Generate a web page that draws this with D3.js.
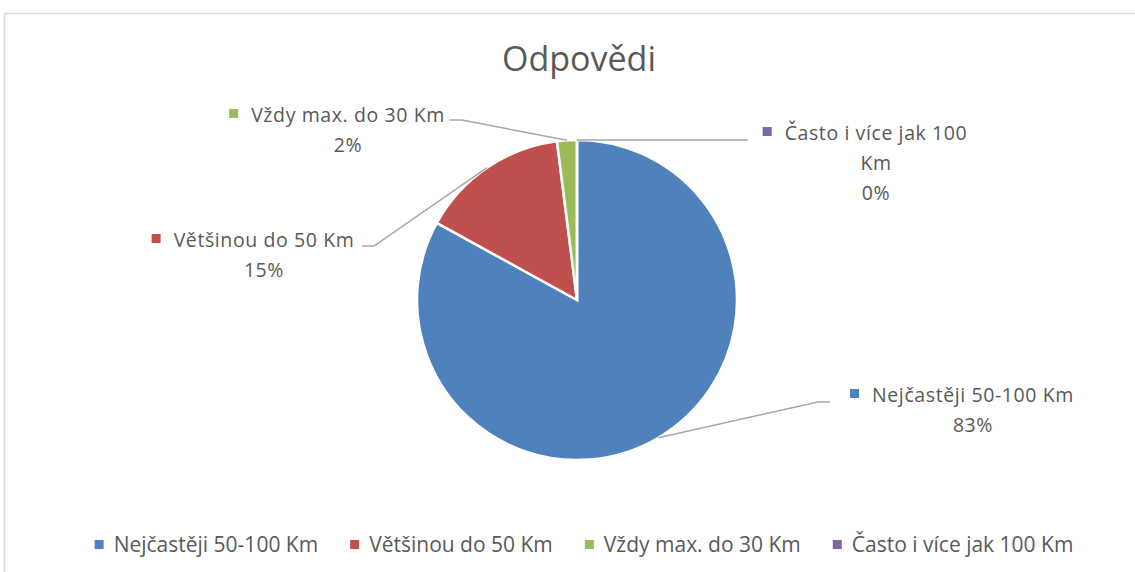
<!DOCTYPE html>
<html>
<head>
<meta charset="utf-8">
<script src="https://cdn.jsdelivr.net/npm/d3@7"></script>
<style>
  body { margin: 0; background: #fff; }
  text { font-family: "Open Sans", "Noto Sans", sans-serif; fill: #595959; }
</style>
</head>
<body>
<div id="chart"></div>
<script>
var categories = ["Nejčastěji 50-100 Km", "Většinou do 50 Km", "Vždy max. do 30 Km", "Často i více jak 100 Km"];
var values = [83, 15, 2, 0];
var colors = ["#4f81bd", "#c0504d", "#9bbb59", "#8064a2"];
var labelLines = [["Nejčastěji 50-100 Km"], ["Většinou do 50 Km"], ["Vždy max. do 30 Km"], ["Často i více jak 100", "Km"]];

var width = 1135, height = 572;
var cx = 577, cy = 300, radius = 160;

// where each data label sits and where its leader line ends
var labelPos = [
  {x: 973, y: 402, lx: 830, ly: 402, side: 1},
  {x: 264, y: 247, lx: 362, ly: 246, side: -1},
  {x: 348, y: 122, lx: 450, ly: 120, side: -1},
  {x: 876, y: 140, lx: 748, ly: 140, side: 1}
];

var svg = d3.select("#chart").append("svg")
  .attr("width", width)
  .attr("height", height);

// chart border
svg.append("rect")
  .attr("x", 4.5).attr("y", 13.5)
  .attr("width", width + 10).attr("height", height)
  .attr("fill", "none")
  .attr("stroke", "#d9d9d9")
  .attr("stroke-width", 1.5);

svg.append("text")
  .attr("x", 579).attr("y", 71)
  .attr("text-anchor", "middle")
  .style("font-size", "34px")
  .text("Odpovědi");

var total = d3.sum(values);
var data = categories.map(function(c, i) {
  return {name: c, value: values[i], color: colors[i], lines: labelLines[i], pos: labelPos[i]};
});

var pie = d3.pie().sort(null).value(function(d) { return d.value; });
var arc = d3.arc().innerRadius(0).outerRadius(radius);
var arcs = pie(data);

var g = svg.append("g").attr("transform", "translate(" + cx + "," + cy + ")");

g.selectAll(".slice")
  .data(arcs)
  .enter().append("path")
  .attr("class", "slice")
  .attr("d", arc)
  .attr("fill", function(d) { return d.data.color; })
  .attr("stroke", "#fff")
  .attr("stroke-width", 2.5);

// leader lines
svg.selectAll(".leader")
  .data(arcs)
  .enter().append("polyline")
  .attr("class", "leader")
  .attr("fill", "none")
  .attr("stroke", "#a6a6a6")
  .attr("stroke-width", 1.5)
  .attr("points", function(d) {
    var a = (d.startAngle + d.endAngle) / 2;
    var px = cx + radius * Math.sin(a), py = cy - radius * Math.cos(a);
    var p = d.data.pos;
    var ex = p.lx - p.side * 12;
    return [[p.lx, p.ly], [ex, p.ly], [px, py]].map(function(q) { return q.join(","); }).join(" ");
  });

// data labels
var labels = svg.selectAll(".lbl")
  .data(data)
  .enter().append("g")
  .attr("class", "lbl");

labels.each(function(d) {
  var el = d3.select(this);
  var lines = d.lines.concat([Math.round(d.value / total * 100) + "%"]);
  lines.forEach(function(t, i) {
    var txt = el.append("text")
      .attr("x", d.pos.x)
      .attr("y", d.pos.y + i * 30)
      .attr("text-anchor", "middle")
      .style("font-size", "19.5px")
      .style("letter-spacing", "0.6px")
      .text(t);
    if (i === 0) {
      var w = txt.node().getComputedTextLength();
      el.append("rect")
        .attr("x", d.pos.x - w / 2 - 22)
        .attr("y", d.pos.y - 13)
        .attr("width", 9).attr("height", 9)
        .attr("fill", d.color);
    }
  });
});

// legend
var legend = svg.append("g");
var lx = 0;
categories.forEach(function(c, i) {
  var item = legend.append("g").attr("transform", "translate(" + lx + ",0)");
  item.append("rect")
    .attr("x", 0).attr("y", 540)
    .attr("width", 9).attr("height", 9)
    .attr("fill", colors[i]);
  var t = item.append("text")
    .attr("x", 19).attr("y", 552)
    .style("font-size", "21px")
    .text(c);
  lx += 19 + t.node().getComputedTextLength() + 32;
});
lx -= 32;
legend.attr("transform", "translate(" + (584 - lx / 2) + ",0)");
</script>
</body>
</html>
